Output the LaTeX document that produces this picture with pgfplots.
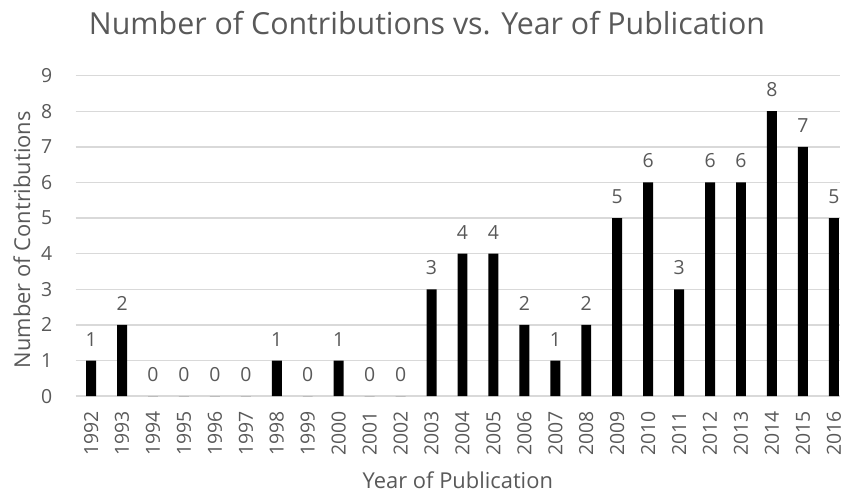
\documentclass[border=0pt]{standalone}
\usepackage{pgfplots}
\pgfplotsset{compat=1.18}
\usepackage{fontspec}
\setmainfont{Open Sans}
\definecolor{txt}{HTML}{595959}
\definecolor{grd}{HTML}{D9D9D9}
\begin{document}
\begin{tikzpicture}
\begin{axis}[
  name=ax,
  scale only axis,
  width=768pt, height=322pt,
  xmin=-0.5, xmax=24.2,
  ymin=0, ymax=9,
  ytick={0,1,...,9},
  xtick={0,1,...,24},
  xticklabels={1992,1993,1994,1995,1996,1997,1998,1999,2000,2001,2002,2003,2004,2005,2006,2007,2008,2009,2010,2011,2012,2013,2014,2015,2016},
  x tick label style={rotate=90, anchor=east, font=\fontsize{19.5}{19.5}\selectfont, text=txt},
  y tick label style={font=\fontsize{19.5}{19.5}\selectfont, text=txt},
  /pgf/number format/assume math mode=true,
  major tick length=0pt,
  ymajorgrids,
  grid style={grd, line width=1.5pt},
  axis line style={draw=none},
  xticklabel shift=12pt,
  yticklabel shift=20pt,
  xlabel={Year of Publication},
  ylabel={Number of Contributions},
  every axis x label/.style={at={(axis description cs:0.5,0)}, anchor=base, yshift=-93pt, font=\fontsize{22}{22}\selectfont, text=txt},
  every axis y label/.style={at={(axis description cs:-0.0703,0.488)}, anchor=center, rotate=90, font=\fontsize{22}{22}\selectfont, text=txt},
  title={Number of Contributions vs. Year of Publication},
  every axis title/.style={at={(axis description cs:0.5,1)}, anchor=base, yshift=41pt, xshift=-31pt, font=\fontsize{30.5}{30.5}\selectfont, text=txt},
  ybar, bar width=10pt,
  nodes near coords,
  every node near coord/.append style={font=\fontsize{19.5}{19.5}\selectfont, text=txt, yshift=11pt},
  clip=false,
]
\addplot[fill=black, draw=none] coordinates {
(0,1) (1,2) (2,0) (3,0) (4,0) (5,0) (6,1) (7,0) (8,1) (9,0) (10,0) (11,3) (12,4)
(13,4) (14,2) (15,1) (16,2) (17,5) (18,6) (19,3) (20,6) (21,6) (22,8) (23,7) (24,5)};
\end{axis}
\pgfresetboundingbox
\path[use as bounding box] ([xshift=-76pt,yshift=-102pt]ax.south west) rectangle ([xshift=4pt,yshift=76pt]ax.north east);
\end{tikzpicture}
\end{document}
